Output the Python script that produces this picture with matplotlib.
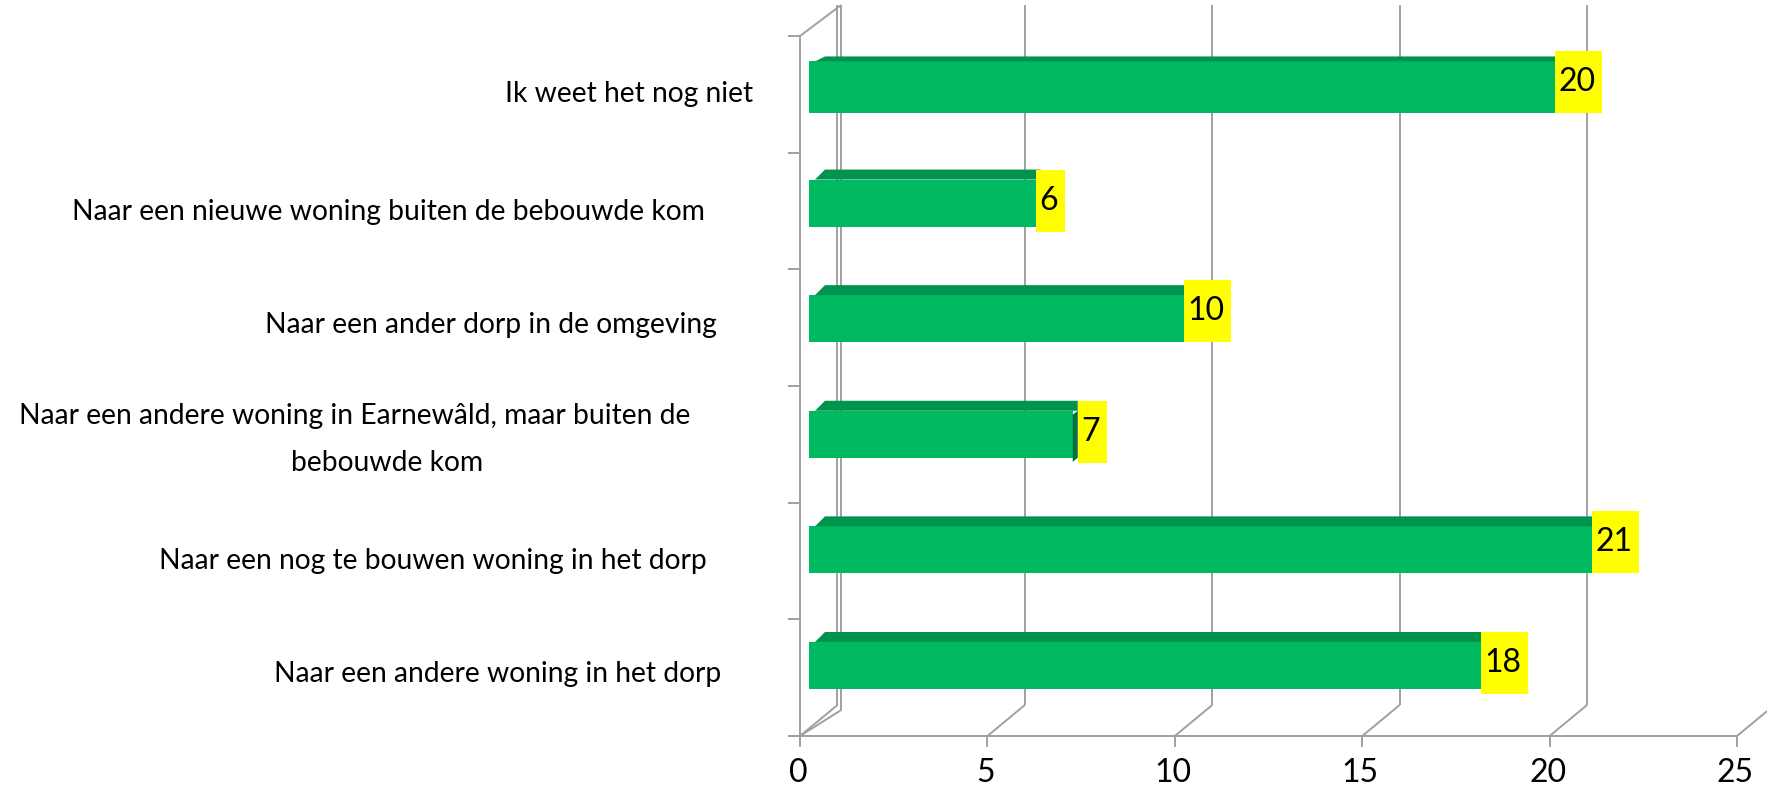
import numpy as np
import matplotlib
matplotlib.use('Agg')
import matplotlib.pyplot as plt
from matplotlib.patches import Polygon, Rectangle

plt.rcParams['font.family'] = ['Lato', 'DejaVu Sans']

# bottom to top, same order as the chart axis
labels = [
    'Naar een andere woning in het dorp',
    'Naar een nog te bouwen woning in het dorp',
    'Naar een andere woning in Earnewâld, maar buiten de\nbebouwde kom',
    'Naar een ander dorp in de omgeving',
    'Naar een nieuwe woning buiten de bebouwde kom',
    'Ik weet het nog niet',
]
values = [18, 21, 7, 10, 6, 20]
x_ticks = [0, 5, 10, 15, 20, 25]

GRID = '#a0a0a0'
FRONT = '#00ba62'
TOP = '#00934d'
SIDE = '#00703c'

W, H = 1767, 786
fig = plt.figure(figsize=(W / 100, H / 100), dpi=100)
ax = fig.add_axes([800 / W, (H - 736) / H, 937 / W, 700 / H])
ax.set_xlim(0, 25)
ax.set_ylim(-0.61, 5.445)
ax.axis('off')

# pixel sizes turned into data units
ux = 937 / 25
uy = 115.6
depth_x = 1.0
depth_y = 31 / uy
top_y = 5.445 + 31 / uy

line = dict(color=GRID, lw=1.4, clip_on=False, zorder=1, solid_capstyle='butt')

# walls and floor
ax.plot([0, 0], [-0.61, 5.445], **line)
ax.plot([-12 / ux, 25], [-0.61, -0.61], **line)
ax.plot([0, depth_x + 0.1], [5.445, top_y], **line)
ax.plot([0, depth_x + 0.1], [-0.61, -0.61 + 26 / uy], **line)
ax.plot([depth_x + 0.1, depth_x + 0.1], [-0.61 + 26 / uy, top_y], **line)
for t in x_ticks:
    ax.plot([t, t], [-0.61, -0.61 - 11 / uy], **line)
    ax.plot([t, t + depth_x], [-0.61, -0.61 + depth_y], **line)
    if t < 25:
        ax.plot([t + depth_x, t + depth_x], [-0.61 + depth_y, top_y], **line)
    ax.text(t - 2 / ux, -0.61 - 37 / uy, str(t), fontsize=23, ha='center', va='center', color='black')

for y in np.linspace(-0.61, 5.445, 7):
    ax.plot([-12 / ux, 0], [y, y], **line)

# bars, the front face sits slightly shorter than the axis scale because of the 3D depth
left = 0.24
for i, v in enumerate(values):
    h = 52 / uy if v == 20 else 47 / uy
    strip = 5 / uy if v == 20 else 10 / uy
    length = 0.107 + 0.99 * v
    right = left + length
    ax.barh(i, length, left=left, height=h, color=FRONT, linewidth=0, zorder=3)
    y_top = i + h / 2
    ax.add_patch(Polygon([(left + 6 / ux, y_top), (left + 16 / ux, y_top + strip),
                          (right + 5 / ux, y_top + strip), (right + 5 / ux, y_top), (right, y_top)],
                         facecolor=TOP, edgecolor='none', zorder=3))
    box_left = right
    if v == 7:
        # this bar shows its dark end, the label sits past it
        ax.add_patch(Polygon([(right, y_top - 4 / uy), (right + 5 / ux, y_top),
                              (right + 5 / ux, y_top - 47 / uy), (right, y_top - 51 / uy)],
                             facecolor=SIDE, edgecolor='none', zorder=4))
        box_left = right + 5 / ux
    box_w = (47 if v >= 10 else 29) / ux
    # label boxes are 62px tall, some hang below the bar and some stick out above it
    if v in (20, 10, 21):
        box_b = y_top - h
    else:
        box_b = y_top - h - 5 / uy
    box_h = 62 / uy
    ax.add_patch(Rectangle((box_left, box_b), box_w, box_h, facecolor='#ffff00',
                           edgecolor='none', zorder=5))
    ax.text(box_left + box_w / 2 - 2 / ux, box_b + box_h / 2, str(v), fontsize=23,
            ha='center', va='center', color='black', zorder=6)

# category labels, each has its own right edge in the original
label_right = [721, 707, 690, 717, 705, 753]
label_y = [674, 561, 416, 325, 212, 94]
for lab, rx, py in zip(labels, label_right, label_y):
    parts = lab.split('\n')
    fig.text(rx / W, 1 - py / H, parts[0], fontsize=20.3, ha='right', va='center', color='black')
    if len(parts) > 1:
        fig.text(483 / W, 1 - 463 / H, parts[1], fontsize=20.3, ha='right', va='center', color='black')

fig.savefig('out.png', dpi=100)
